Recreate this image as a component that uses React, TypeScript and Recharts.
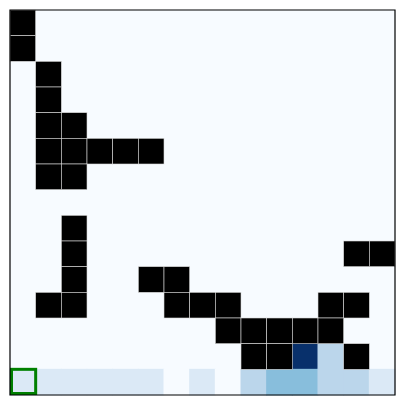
import { ScatterChart, Scatter, XAxis, YAxis, ReferenceArea } from "recharts";

const SIZE = 405;
const MARGIN = 10;
const COLS = 15;
const ROWS = 15;
const CELL = (SIZE - 2 * MARGIN) / COLS;

// [row, col] of the blocked cells
const walls: [number, number][] = [
  [0, 0], [1, 0], [2, 1], [3, 1], [4, 1], [4, 2],
  [5, 1], [5, 2], [5, 3], [5, 4], [5, 5], [6, 1], [6, 2],
  [8, 2], [9, 2], [9, 13], [9, 14], [10, 2], [10, 5], [10, 6],
  [11, 1], [11, 2], [11, 6], [11, 7], [11, 8], [11, 12], [11, 13],
  [12, 8], [12, 9], [12, 10], [12, 11], [12, 12],
  [13, 9], [13, 10], [13, 13],
];

// [row, col, visits]
const visits: [number, number, number][] = [
  [14, 0, 1], [14, 1, 1], [14, 2, 1], [14, 3, 1], [14, 4, 1], [14, 5, 1],
  [14, 7, 1], [14, 9, 2], [14, 10, 3], [14, 11, 3], [14, 12, 2], [14, 13, 2], [14, 14, 1],
  [13, 11, 7], [13, 12, 2],
];

const startCell: [number, number] = [14, 0];
const maxVisits = 7;

const BLUES = ["#f7fbff", "#deebf7", "#c6dbef", "#9ecae1", "#6baed6", "#4292c6", "#2171b5", "#08519c", "#08306b"];

function hex(c: string) {
  return [1, 3, 5].map((i) => parseInt(c.slice(i, i + 2), 16));
}

function blues(t: number) {
  const p = Math.max(0, Math.min(1, t)) * (BLUES.length - 1);
  const i = Math.min(Math.floor(p), BLUES.length - 2);
  const f = p - i;
  const a = hex(BLUES[i]);
  const b = hex(BLUES[i + 1]);
  const m = a.map((v, k) => Math.round(v + (b[k] - v) * f));
  return `rgb(${m[0]},${m[1]},${m[2]})`;
}

const cells: { x: number; y: number; fill: string; wall: boolean }[] = [];
for (let r = 0; r < ROWS; r++) {
  for (let c = 0; c < COLS; c++) {
    const wall = walls.some(([wr, wc]) => wr === r && wc === c);
    const v = visits.find(([vr, vc]) => vr === r && vc === c);
    const count = v ? v[2] : 0;
    cells.push({ x: c + 0.5, y: r + 0.5, wall, fill: wall ? "#000000" : blues(count / maxVisits) });
  }
}
// walls drawn last so their light edges sit on top
cells.sort((a, b) => Number(a.wall) - Number(b.wall));

const startData = [{ x: startCell[1] + 0.5, y: startCell[0] + 0.5 }];

const CellShape = (props: any) => {
  const { cx, cy, payload } = props;
  const pad = payload.wall ? 0 : 0.5;
  return (
    <rect
      x={cx - CELL / 2 - pad}
      y={cy - CELL / 2 - pad}
      width={CELL + 2 * pad}
      height={CELL + 2 * pad}
      fill={payload.fill}
      stroke={payload.wall ? "#d9d9d9" : "none"}
      strokeWidth={0.6}
    />
  );
};

const StartShape = (props: any) => {
  const { cx, cy } = props;
  return (
    <rect
      x={cx - CELL / 2 + 1.5}
      y={cy - CELL / 2}
      width={CELL - 1.5}
      height={CELL - 1.5}
      fill="none"
      stroke="#008000"
      strokeWidth={3}
    />
  );
};

export default function App() {
  return (
    <div style={{ position: "absolute", left: 0, top: 0, background: "#fff" }}>
      <ScatterChart width={SIZE} height={SIZE} margin={{ top: MARGIN, right: MARGIN, bottom: MARGIN, left: MARGIN }}>
        <XAxis type="number" dataKey="x" domain={[0, COLS]} hide />
        <YAxis type="number" dataKey="y" domain={[0, ROWS]} reversed hide />
        <Scatter data={cells} shape={CellShape} isAnimationActive={false} />
        <Scatter data={startData} shape={StartShape} isAnimationActive={false} />
        <ReferenceArea
          x1={0}
          x2={COLS}
          y1={0}
          y2={ROWS}
          fill="none"
          fillOpacity={0}
          stroke="#000"
          strokeWidth={1.2}
          zIndex={2000}
        />
      </ScatterChart>
    </div>
  );
}
